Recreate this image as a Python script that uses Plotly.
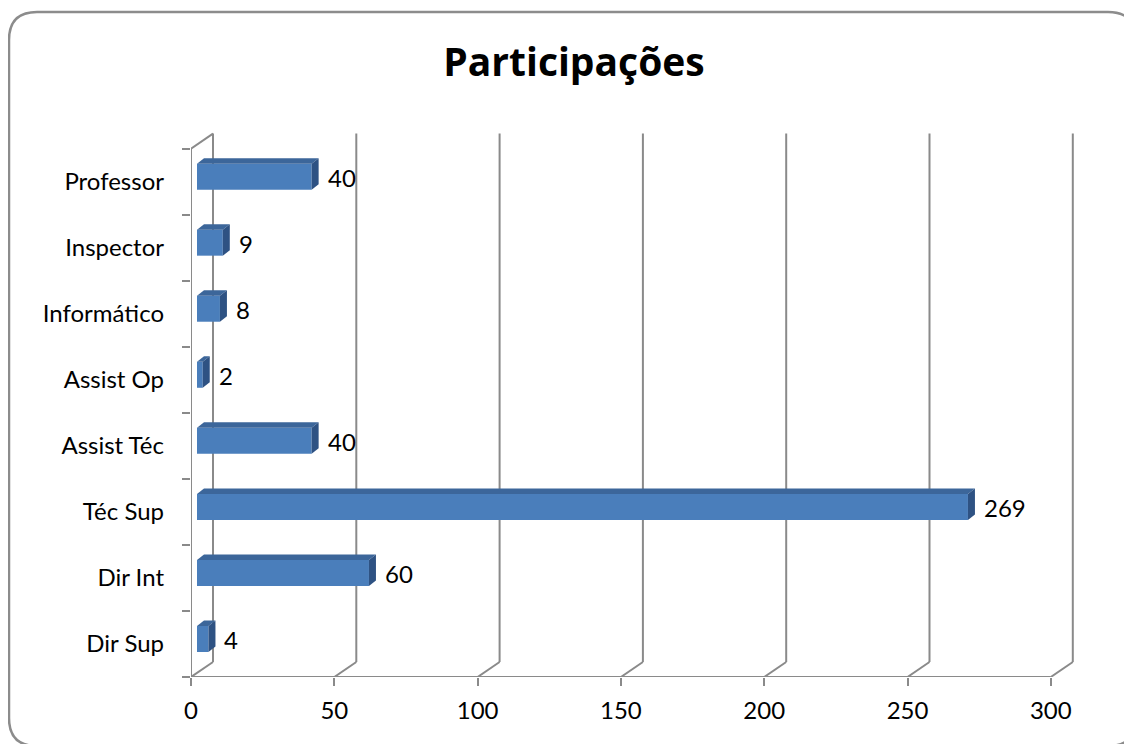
import plotly.graph_objects as go

# ---------------- data ----------------
categories = ["Dir Sup", "Dir Int", "Téc Sup", "Assist Téc", "Assist Op",
              "Informático", "Inspector", "Professor"]
values = [4, 60, 269, 40, 2, 8, 9, 40]
x_ticks = [0, 50, 100, 150, 200, 250, 300]
title_text = "Participações"

# ---------------- layout constants ----------------
PAGE_OFF = 8              # default page margin of the html body
W, H = 1132 - PAGE_OFF, 744 - PAGE_OFF
ML, MT = 191 - PAGE_OFF, 128 - PAGE_OFF
PLOT_R, PLOT_B = 1080 - PAGE_OFF, 677 - PAGE_OFF
MR, MB = W - PLOT_R, H - PLOT_B
PW, PH = W - ML - MR, H - MT - MB
PX_PER_X = 2.866          # pixels per value unit
PX_PER_CAT = 66.05        # pixels per category
X_SPAN = PW / PX_PER_X
Y_SPAN = PH / PX_PER_CAT

BAR_OFF_X, BAR_OFF_Y = 6, 5       # bar plane offset from front plane (px)
BAR_DEPTH_X, BAR_DEPTH_Y = 7, 5.5 # bar depth (px)
WALL_DX, WALL_DY = 22, 15         # back wall offset (px)
BAR_W = 26 / PX_PER_CAT

FRONT = "#4A7EBB"
TOP = "#3C669A"
SIDE = "#2E5283"
GRID = "#8A8A8A"
FONT = "Lato"
TITLE_FONT = "Open Sans"

pos = list(range(len(categories)))
y_lo = -0.5
y_hi = len(categories) - 0.5

fig = go.Figure()

# front face of bars
fig.add_trace(go.Bar(
    x=values, y=pos, orientation="h", width=BAR_W,
    marker=dict(color=FRONT, line=dict(width=0)),
    xaxis="x2", yaxis="y2", hoverinfo="skip", showlegend=False,
))

ddx = BAR_DEPTH_X / PX_PER_X
ddy = BAR_DEPTH_Y / PX_PER_CAT
for v, p in zip(values, pos):
    top = p + BAR_W / 2
    bot = p - BAR_W / 2
    fig.add_trace(go.Scatter(
        x=[0, v, v + ddx, ddx, 0], y=[top, top, top + ddy, top + ddy, top],
        fill="toself", fillcolor=TOP, mode="lines", line=dict(width=0, color=TOP),
        xaxis="x2", yaxis="y2", hoverinfo="skip", showlegend=False))
    fig.add_trace(go.Scatter(
        x=[v, v + ddx, v + ddx, v, v], y=[bot, bot + ddy, top + ddy, top, bot],
        fill="toself", fillcolor=SIDE, mode="lines", line=dict(width=0, color=SIDE),
        xaxis="x2", yaxis="y2", hoverinfo="skip", showlegend=False))

# data labels
annotations = []
for v, p in zip(values, pos):
    annotations.append(dict(
        x=v, y=p, xref="x2", yref="y2", text=str(v), showarrow=False,
        xanchor="left", yanchor="middle", xshift=BAR_DEPTH_X + 7, yshift=-0.5,
        font=dict(family=FONT, size=24, color="#000000")))

# axes lines / back wall
shapes = []
line_style = dict(color=GRID, width=2)
wdx = WALL_DX / PX_PER_X
wdy = WALL_DY / PX_PER_CAT
shapes.append(dict(type="line", xref="x", yref="y", x0=x_ticks[0], x1=x_ticks[-1],
                   y0=y_lo, y1=y_lo, line=line_style, layer="below"))
shapes.append(dict(type="line", xref="x", yref="y", x0=0, x1=0,
                   y0=y_lo, y1=y_hi, line=line_style, layer="below"))
shapes.append(dict(type="line", xref="x", yref="y", x0=0, x1=wdx,
                   y0=y_hi, y1=y_hi + wdy, line=line_style, layer="below"))
for t in x_ticks:
    shapes.append(dict(type="line", xref="x", yref="y", x0=t, x1=t + wdx,
                       y0=y_lo, y1=y_lo + wdy, line=line_style, layer="below"))
    shapes.append(dict(type="line", xref="x", yref="y", x0=t + wdx, x1=t + wdx,
                       y0=y_lo + wdy, y1=y_hi + wdy, line=line_style, layer="below"))

# rounded outer border (paper coords computed from pixels)
def px(xp):
    return (xp - ML) / PW

def py(yp):
    return (H - MB - yp) / PH

L, R, T, B, RAD = 9 - PAGE_OFF, 1136 - PAGE_OFF, 12 - PAGE_OFF, 746 - PAGE_OFF, 28
path = (f"M {px(L + RAD)},{py(T)} L {px(R - RAD)},{py(T)} "
        f"Q {px(R)},{py(T)} {px(R)},{py(T + RAD)} "
        f"L {px(R)},{py(B - RAD)} Q {px(R)},{py(B)} {px(R - RAD)},{py(B)} "
        f"L {px(L + RAD)},{py(B)} Q {px(L)},{py(B)} {px(L)},{py(B - RAD)} "
        f"L {px(L)},{py(T + RAD)} Q {px(L)},{py(T)} {px(L + RAD)},{py(T)} Z")
shapes.append(dict(type="path", xref="paper", yref="paper", path=path,
                   line=dict(color="#8C8C8C", width=2.5), layer="below"))

fig.update_layout(
    width=W, height=H,
    margin=dict(l=ML, r=MR, t=MT, b=MB, autoexpand=False),
    paper_bgcolor="white", plot_bgcolor="rgba(0,0,0,0)",
    showlegend=False, hovermode=False,
    title=dict(text=f"<b>{title_text}</b>", x=(574 - PAGE_OFF) / W, xanchor="center",
               y=1 - (62 - PAGE_OFF) / H, yanchor="middle", xref="container",
               yref="container",
               font=dict(family=TITLE_FONT, size=39, color="#000000")),
    xaxis=dict(range=[0, X_SPAN], tickvals=x_ticks, ticks="outside", ticklen=8,
               tickwidth=2, tickcolor=GRID, showgrid=False, zeroline=False,
               showline=False, ticklabelstandoff=4,
               tickfont=dict(family=FONT, size=24, color="#000000"),
               fixedrange=True),
    yaxis=dict(range=[y_lo, y_lo + Y_SPAN], tickvals=pos, ticktext=categories,
               ticks="", showgrid=False, zeroline=False, showline=False,
               ticklabelstandoff=26,
               minor=dict(tickvals=[p - 0.5 for p in pos] + [y_hi], ticks="outside",
                          ticklen=8, tickwidth=2, tickcolor=GRID, showgrid=False),
               tickfont=dict(family=FONT, size=24, color="#000000"),
               fixedrange=True),
    xaxis2=dict(overlaying="x", range=[-BAR_OFF_X / PX_PER_X, X_SPAN - BAR_OFF_X / PX_PER_X],
                visible=False, fixedrange=True),
    yaxis2=dict(overlaying="y", range=[y_lo - BAR_OFF_Y / PX_PER_CAT,
                                       y_lo + Y_SPAN - BAR_OFF_Y / PX_PER_CAT],
                visible=False, fixedrange=True),
    shapes=shapes, annotations=annotations,
)

fig.write_html("out.html", config={"displayModeBar": False})
